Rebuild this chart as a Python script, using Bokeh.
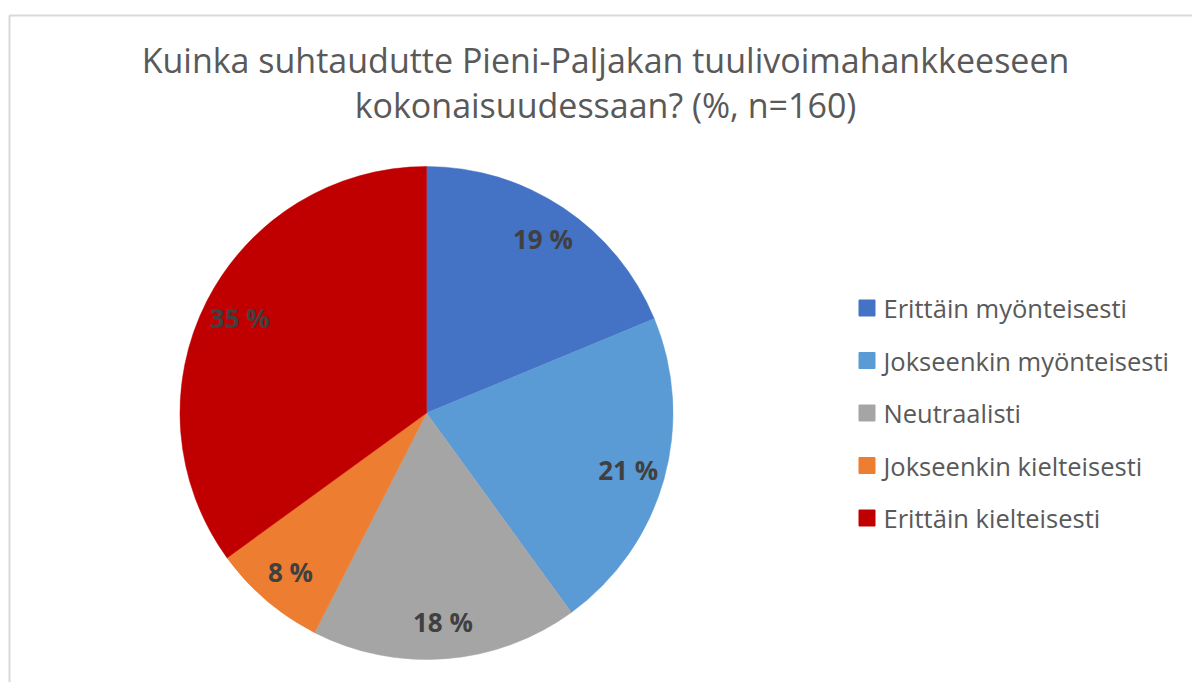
import numpy as np
from bokeh.plotting import figure
from bokeh.models import Range1d, ColumnDataSource
from bokeh.embed import file_html
from bokeh.resources import INLINE
from bokeh.core.properties import value

# ---- data ----
title_lines = ["Kuinka suhtaudutte Pieni-Paljakan tuulivoimahankkeeseen",
               "kokonaisuudessaan? (%, n=160)"]
categories = ["Erittäin myönteisesti", "Jokseenkin myönteisesti", "Neutraalisti",
              "Jokseenkin kielteisesti", "Erittäin kielteisesti"]
shares = [18.75, 21.25, 17.5, 7.5, 35.0]          # percent of n=160
labels = ["19 %", "21 %", "18 %", "8 %", "35 %"]
colors = ["#4472C4", "#5B9BD5", "#A5A5A5", "#ED7D31", "#C00000"]

# ---- layout ----
W, H = 1192, 682
PAGE_H = 682
FONT = "Open Sans"


def py(y):
    return PAGE_H - y


p = figure(width=W, height=H, x_range=Range1d(0, W), y_range=Range1d(PAGE_H - H, PAGE_H),
           output_backend="svg", toolbar_location=None, min_border=0)
p.axis.visible = False
p.grid.visible = False
p.outline_line_color = None
p.background_fill_color = "white"
p.border_fill_color = "white"

# chart border (left and top visible, rest cropped)
p.line(x=[9, 9, 1200], y=[py(700), py(15), py(15)], line_color="#D9D9D9", line_width=2)

# ---- pie ----
cx, cy, R = 426, py(412.5), 246.5
vals = np.array(shares, dtype=float)
frac = vals / vals.sum()
cum_end = np.cumsum(frac)
cum_start = cum_end - frac
start = np.pi / 2 - 2 * np.pi * cum_end
end = np.pi / 2 - 2 * np.pi * cum_start
mid = (start + end) / 2
lr = 0.85 * R
src = ColumnDataSource(dict(start=start, end=end, color=colors, cat=categories,
                            lx=cx + lr * np.cos(mid), ly=cy + lr * np.sin(mid), label=labels))
p.wedge(x=cx, y=cy, radius=R, start_angle="start", end_angle="end",
        fill_color="color", line_color="color", line_width=0.5, source=src)
p.text(x="lx", y="ly", text="label", source=src, text_align="center", text_baseline="middle",
       text_font=value(FONT), text_font_style="bold", text_font_size="26px", text_color="#404040")

# ---- title ----
p.text(x=[605, 605], y=[py(59.5), py(104.5)], text=title_lines, text_align="center",
       text_baseline="middle", text_font=value(FONT), text_font_size="34px",
       text_color="#595959")

# ---- legend ----
n = len(categories)
idx = np.arange(n)
lg = ColumnDataSource(dict(sx=np.full(n, 866.5), sy=py(307.5 + 52.5 * idx),
                           tx=np.full(n, 883.0), ty=py(307.5 + 52.5 * idx),
                           color=colors, cat=categories))
p.scatter(x="sx", y="sy", marker="square", size=16, fill_color="color", line_color="color", source=lg)
p.text(x="tx", y="ty", text="cat", source=lg, text_align="left", text_baseline="middle",
       text_font=value(FONT), text_font_size="25.5px", text_color="#595959")

open("out.html", "w").write(file_html(p, INLINE))
